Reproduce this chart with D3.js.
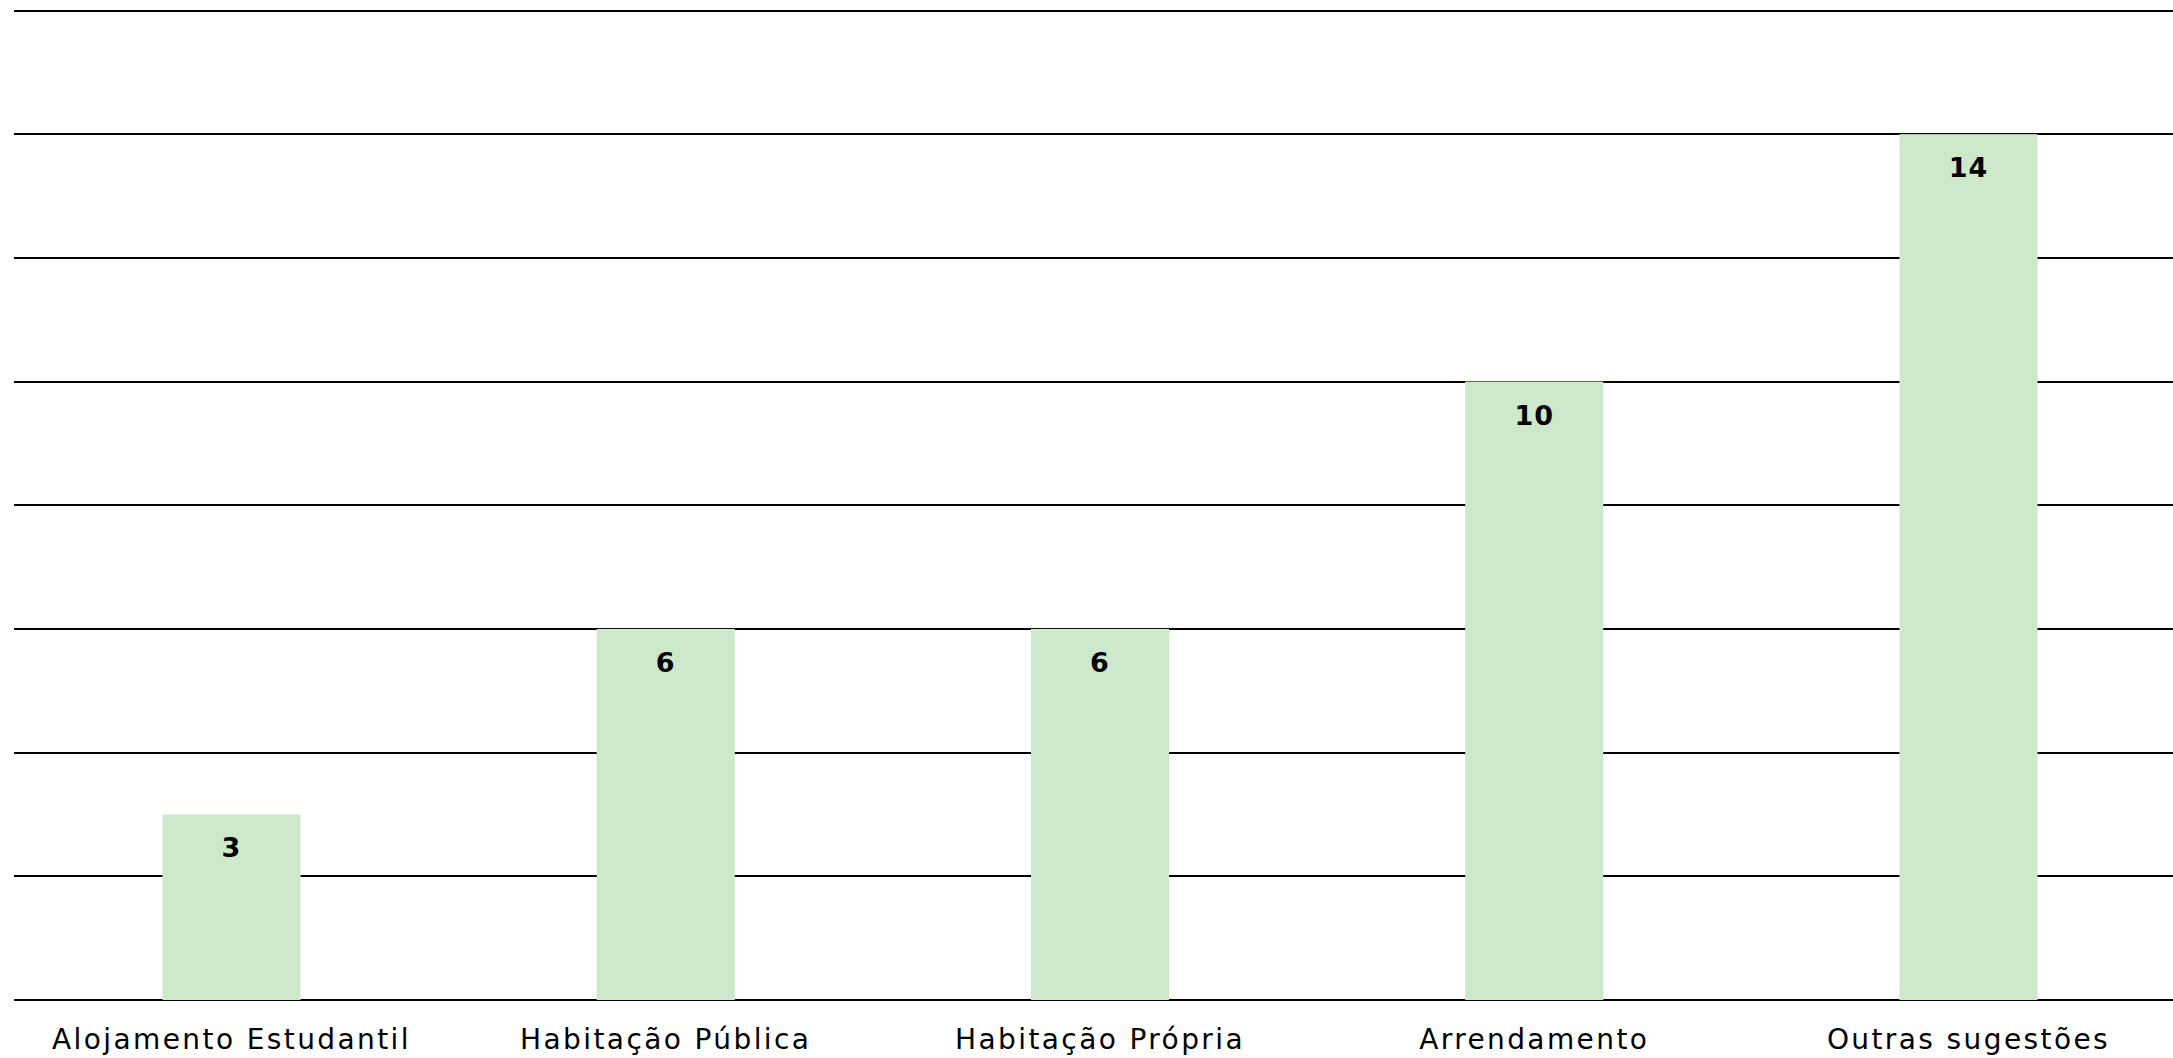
<!DOCTYPE html>
<html>
<head>
<meta charset="utf-8">
<script src="https://cdn.jsdelivr.net/npm/d3@7/dist/d3.min.js"></script>
<style>
  html, body { margin: 0; padding: 0; background: #ffffff; }
  svg { display: block; }
</style>
</head>
<body>
<svg id="chart" width="2173" height="1058"></svg>
<script>
// Housing preference counts
const categories = ["Alojamento Estudantil", "Habitação Pública", "Habitação Própria", "Arrendamento", "Outras sugestões"];
const counts = [3, 6, 6, 10, 14];
const yTicks = [0, 2, 4, 6, 8, 10, 12, 14, 16];

const width = 2173, height = 1058;
const svg = d3.select("#chart");

const x = d3.scaleBand()
  .domain(categories)
  .range([14.4, 2185.6])
  .paddingInner(0.682)
  .paddingOuter(0.341);

const y = d3.scaleLinear()
  .domain([0, 16])
  .range([1000, 10.5]);

// Horizontal gridlines
svg.append("g")
  .selectAll("line")
  .data(yTicks)
  .join("line")
  .attr("x1", 14)
  .attr("x2", width)
  .attr("y1", d => Math.round(y(d)))
  .attr("y2", d => Math.round(y(d)))
  .attr("stroke", "#000")
  .attr("stroke-width", 2);

// Bars
svg.append("g")
  .selectAll("rect")
  .data(counts)
  .join("rect")
  .attr("x", (d, i) => x(categories[i]))
  .attr("width", x.bandwidth())
  .attr("y", d => y(d))
  .attr("height", d => y(0) - y(d))
  .attr("fill", "#cde8cb");

// Value labels inside bar tops
svg.append("g")
  .selectAll("text")
  .data(counts)
  .join("text")
  .attr("x", (d, i) => x(categories[i]) + x.bandwidth() / 2)
  .attr("y", d => y(d) + 43)
  .attr("text-anchor", "middle")
  .attr("font-family", "'DejaVu Sans', sans-serif")
  .attr("font-weight", "bold")
  .attr("font-size", 27)
  .attr("letter-spacing", 1)
  .attr("fill", "#000")
  .text(d => d);

// Category labels
svg.append("g")
  .selectAll("text")
  .data(categories)
  .join("text")
  .attr("x", d => x(d) + x.bandwidth() / 2)
  .attr("y", 1049)
  .attr("text-anchor", "middle")
  .attr("font-family", "'DejaVu Sans', sans-serif")
  .attr("font-size", 28)
  .attr("letter-spacing", 2.4)
  .attr("fill", "#000")
  .text(d => d);
</script>
</body>
</html>
